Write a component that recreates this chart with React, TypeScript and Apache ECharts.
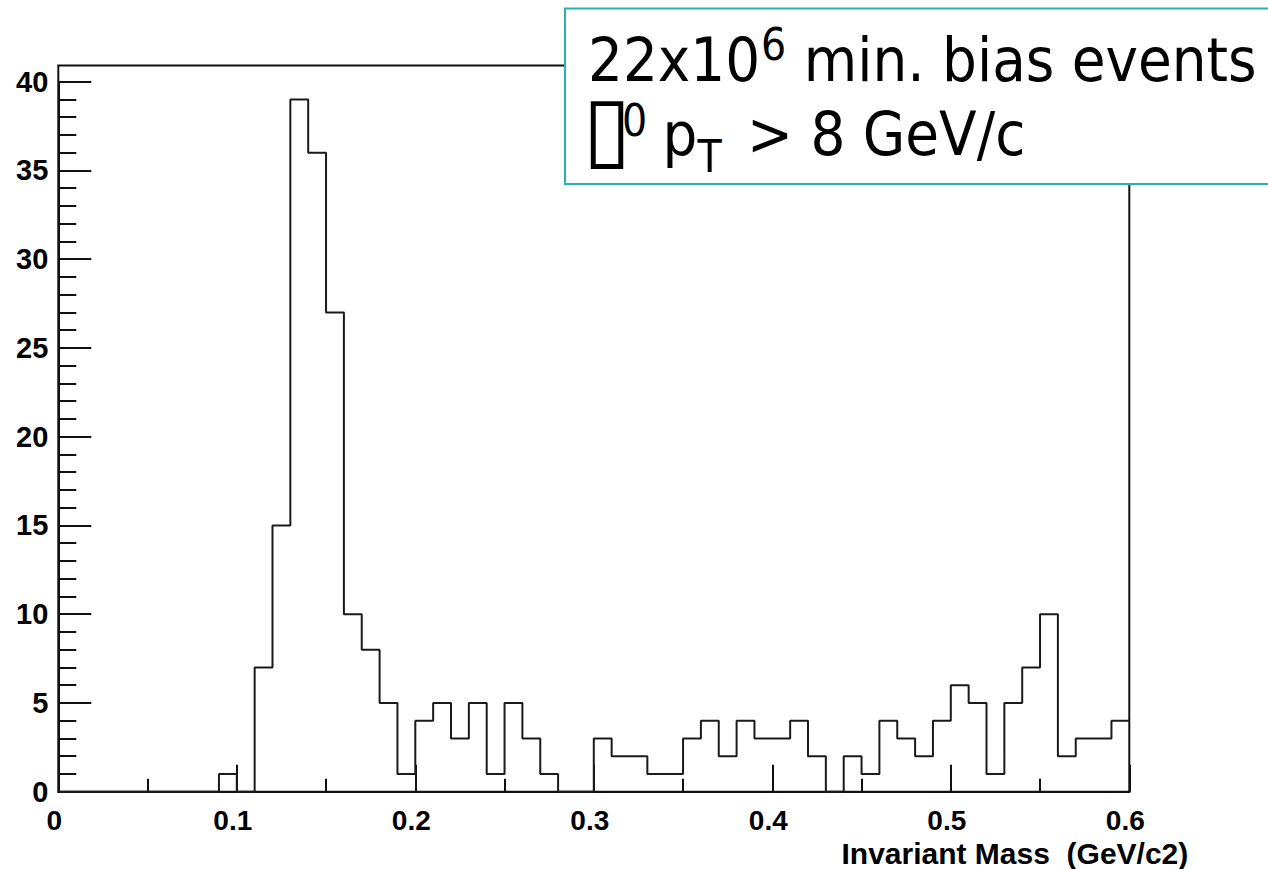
import React, { useEffect, useRef } from "react";
import * as echarts from "echarts";

// Histogram: 60 bins of width 0.01 GeV/c2 from 0 to 0.6
const binLowEdges: number[] = Array.from({ length: 60 }, (_, i) => +(i * 0.01).toFixed(2));
const counts: number[] = [
  0, 0, 0, 0, 0, 0, 0, 0, 0, 1,
  0, 7, 15, 39, 36, 27, 10, 8, 5, 1,
  4, 5, 3, 5, 1, 5, 3, 1, 0, 0,
  3, 2, 2, 1, 1, 3, 4, 2, 4, 3,
  3, 4, 2, 0, 2, 1, 4, 3, 2, 4,
  6, 5, 1, 5, 7, 10, 2, 3, 3, 4,
];
const xRange: [number, number] = [0, 0.6];
const yRange: [number, number] = [0, 40];
const xAxisTitle = "Invariant Mass  (GeV/c2)";
const boxLine1 = ["22x10", "6", " min. bias events"];
const boxLine2 = ["\u25AF", "0", " p", "T", " > 8 GeV/c"];

const TICK_FONT = '"Liberation Sans", Arial, Helvetica, sans-serif';
const BOX_FONT = '"DejaVu Sans Condensed", "DejaVu Sans", Verdana, sans-serif';

function measure(text: string, size: number, family: string): number {
  const c = document.createElement("canvas").getContext("2d");
  if (!c) return text.length * size * 0.55;
  c.font = `${size}px ${family}`;
  return c.measureText(text).width;
}

export default function App() {
  const ref = useRef<HTMLDivElement>(null);
  useEffect(() => {
    if (!ref.current) return;
    const chart = echarts.init(ref.current, undefined, { renderer: "svg" });

    const stepData: [number, number][] = binLowEdges.map((x, i) => [x, counts[i]]);
    stepData.push([xRange[1], counts[counts.length - 1]]);

    // annotation box texts
    const big = 61;
    const small = 44;
    const texts: any[] = [];
    const x0 = 588;
    const mk = (text: string, x: number, y: number, size: number, extra: any = {}) => ({
      type: "text",
      x,
      y,
      z: 101,
      ...extra,
      style: { text, fontSize: size, fontFamily: BOX_FONT, fill: "#000", verticalAlign: "bottom", align: "left" },
    });
    // line 1
    {
      const base = 90;
      let x = x0;
      texts.push(mk(boxLine1[0], x, base, big));
      x += measure(boxLine1[0], big, BOX_FONT) + 1;
      texts.push(mk(boxLine1[1], x, base - 24, small));
      x += measure(boxLine1[1], small, BOX_FONT);
      texts.push(mk(boxLine1[2], x, base, big));
    }
    // line 2
    {
      const base = 164;
      let x = x0;
      texts.push(mk(boxLine2[0], x - 5, base + 8, big, { scaleX: 1.6, scaleY: 1.45 }));
      x += 34;
      texts.push(mk(boxLine2[1], x, base - 22, small));
      x += measure(boxLine2[1], small, BOX_FONT) - 2;
      texts.push(mk(boxLine2[2], x, base, big));
      x += measure(boxLine2[2], big, BOX_FONT);
      texts.push(mk(boxLine2[3], x, base + 14, small));
      x += measure(boxLine2[3], small, BOX_FONT) + 8;
      texts.push(mk(boxLine2[4], x, base, big));
    }

    const labelStyle = {
      fontFamily: TICK_FONT,
      fontWeight: "bold" as const,
      fontSize: 28,
      color: "#000",
    };

    chart.setOption({
      animation: false,
      backgroundColor: "#fff",
      grid: [
        { left: 58.3, right: 138.7, top: 81.7, bottom: 77.3, containLabel: false, outerBoundsMode: "none", show: false },
        { left: 58.3, right: 138.7, top: 65.5, bottom: 77.3, containLabel: false, outerBoundsMode: "none", show: true, borderColor: "#111", borderWidth: 2, backgroundColor: "transparent" },
      ],
      xAxis: [
        {
          type: "value",
          gridIndex: 0,
          min: xRange[0],
          max: xRange[1],
          interval: 0.1,
          splitLine: { show: false },
          axisLine: { show: true, onZero: false, lineStyle: { color: "#111", width: 2 } },
          axisTick: { show: true, inside: true, length: 27, lineStyle: { color: "#111", width: 2 } },
          minorTick: { show: true, splitNumber: 2, length: 13, lineStyle: { color: "#111", width: 2 } },
          minorSplitLine: { show: false },
          axisLabel: { ...labelStyle, margin: 15, showMinLabel: true, showMaxLabel: true, padding: [0, 8, 0, 0] },
          name: xAxisTitle,
          nameLocation: "end",
          nameGap: 59,
          nameMoveOverlap: false,
          nameTextStyle: { fontFamily: TICK_FONT, fontWeight: "bold", fontSize: 30, color: "#000", align: "right", verticalAlign: "top", padding: [47, 0, 0, 0] },
        },
        { type: "value", gridIndex: 1, min: 0, max: 1, show: false },
      ],
      yAxis: [
        {
          type: "value",
          gridIndex: 0,
          min: yRange[0],
          max: yRange[1],
          interval: 5,
          splitLine: { show: false },
          axisLine: { show: true, onZero: false, lineStyle: { color: "#111", width: 2 } },
          axisTick: { show: true, inside: true, length: 33, lineStyle: { color: "#111", width: 2 } },
          minorTick: { show: true, splitNumber: 5, length: 18, lineStyle: { color: "#111", width: 2 } },
          minorSplitLine: { show: false },
          axisLabel: { ...labelStyle, fontSize: 29, margin: 10, showMinLabel: true, showMaxLabel: true },
        },
        { type: "value", gridIndex: 1, min: 0, max: 1, show: false },
      ],
      series: [
        {
          type: "line",
          xAxisIndex: 0,
          yAxisIndex: 0,
          data: stepData,
          step: "end",
          symbol: "none",
          clip: false,
          lineStyle: { color: "#1a1a1a", width: 2 },
          z: 5,
        },
      ],
      graphic: [
        {
          type: "rect",
          z: 100,
          shape: { x: 565, y: 8.5, width: 760, height: 175.5 },
          style: { fill: "#fff", stroke: "#27b3b3", lineWidth: 2 },
        },
        ...texts,
      ],
    });

    return () => chart.dispose();
  }, []);

  return (
    <div
      ref={ref}
      style={{ position: "absolute", left: 0, top: 0, width: 1268, height: 869, background: "#fff" }}
    />
  );
}
